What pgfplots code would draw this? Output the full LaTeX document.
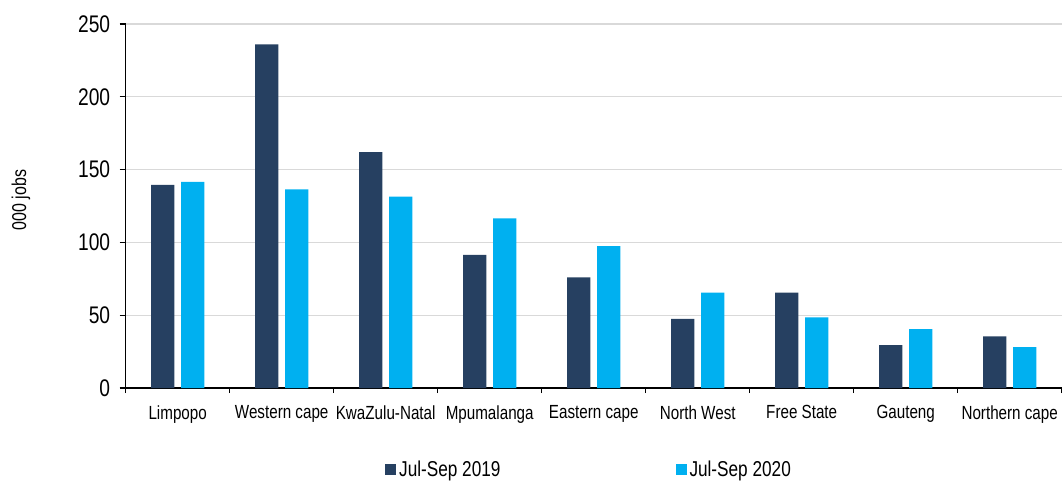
\documentclass[border=0pt]{standalone}
\usepackage{fontspec}
\setmainfont[FakeStretch=0.8]{Liberation Sans}
\usepackage{pgfplots}
\pgfplotsset{compat=1.18}
\definecolor{navy}{HTML}{264061}
\definecolor{sky}{HTML}{00B0F0}
\definecolor{gridgrey}{HTML}{D9D9D9}
\begin{document}
\begin{tikzpicture}
\begin{axis}[
    scale only axis,
    width=936bp, height=364bp,
    ybar=6.7bp, bar width=23.3bp,
    xmin=-0.5, xmax=8.5,
    ymin=0, ymax=250,
    axis x line*=bottom, axis y line*=left,
    axis line style={line width=1.1bp, black},
    xtick={0,...,8},
    xticklabels={Limpopo,Western cape,KwaZulu-Natal,Mpumalanga,Eastern cape,North West,Free State,Gauteng,Northern cape},
    major x tick style={draw=none},
    minor xtick={-0.5,0.5,...,8.5},
    minor x tick style={line width=1.1bp, black},
    minor tick length=5bp,
    ytick={0,50,...,250},
    major tick length=6bp,
    y tick style={line width=1.1bp, black},
    tick align=outside,
    ymajorgrids,
    grid style={gridgrey, line width=1.4bp},
    /pgf/number format/assume math mode=true,
    yticklabel style={font=\fontsize{24bp}{26bp}\selectfont, xshift=-6bp},
    xticklabel style={font=\fontsize{19bp}{22bp}\selectfont, yshift=-8bp},
    ylabel={000 jobs},
    ylabel style={font=\fontsize{20bp}{24bp}\selectfont, at={(axis description cs:-0.1119,0.516)}, anchor=center},
    legend columns=2,
    legend style={draw=none, fill=none, font=\fontsize{21.5bp}{24bp}\selectfont,
        at={(axis description cs:0.277,-0.225)}, anchor=west, inner sep=0pt,
        /tikz/every even column/.append style={column sep=173bp},
        /tikz/every odd column/.append style={column sep=1bp}},
    legend image code/.code={\fill[#1] (0bp,-5.5bp) rectangle (11bp,5.5bp);},
]
\addplot[fill=navy, draw=none] coordinates {
    (0,139.5) (1,236) (2,162) (3,91.5) (4,76) (5,47.5) (6,65.5) (7,29.5) (8,35.5)
};
\addplot[fill=sky, draw=none] coordinates {
    (0,141.5) (1,136.5) (2,131.5) (3,116.5) (4,97.5) (5,65.5) (6,48.5) (7,40.5) (8,28)
};
\legend{Jul-Sep 2019, Jul-Sep 2020}
\end{axis}
\pgfresetboundingbox
\path (-125.7bp,-93bp) rectangle (937.3bp,388bp);
\end{tikzpicture}
\end{document}
